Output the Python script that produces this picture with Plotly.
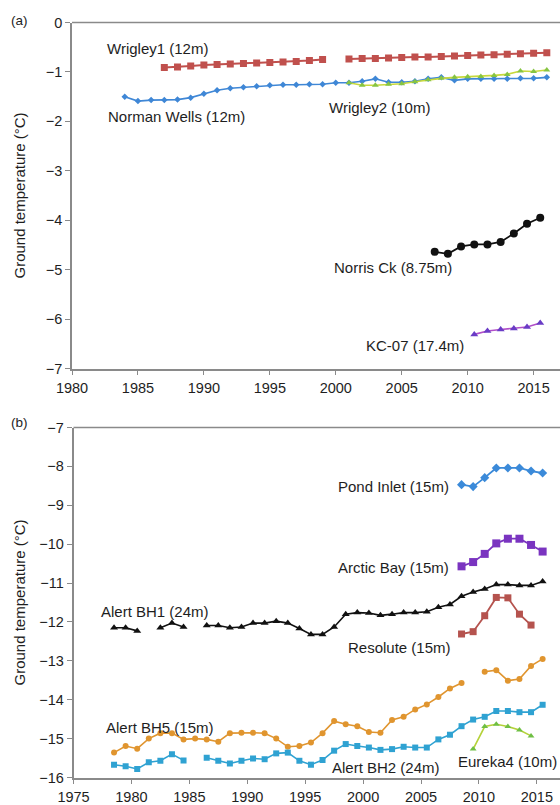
import plotly.graph_objects as go

# ---------------- Panel (a) data ----------------
wrigley1_years = list(range(1987, 2017))
wrigley1_vals = [-0.91, -0.90, -0.88, -0.86, -0.85, -0.84, -0.83, -0.82, -0.81, -0.80, -0.79, -0.77, -0.75,
                 None,
                 -0.74, -0.73, -0.73, -0.72, -0.71, -0.70, -0.70, -0.69, -0.68, -0.67, -0.66, -0.65, -0.64,
                 -0.63, -0.62, -0.61]
norman_years = list(range(1984, 2017))
norman_vals = [-1.50, -1.59, -1.57, -1.57, -1.56, -1.52, -1.44, -1.37, -1.33, -1.31, -1.29, -1.27, -1.26,
               -1.26, -1.25, -1.25, -1.22, -1.22, -1.19, -1.14, -1.21, -1.21, -1.19, -1.14, -1.11, -1.17,
               -1.14, -1.14, -1.14, -1.14, -1.13, -1.13, -1.11]
wrigley2_years = list(range(2001, 2017))
wrigley2_vals = [-1.22, -1.27, -1.27, -1.25, -1.24, -1.20, -1.16, -1.13, -1.11, -1.10, -1.09, -1.07, -1.05,
                 -0.98, -0.99, -0.96]
norris_years = list(range(2007, 2016))
norris_vals = [-4.64, -4.68, -4.53, -4.49, -4.49, -4.44, -4.27, -4.07, -3.95]
kc07_years = list(range(2010, 2016))
kc07_vals = [-6.31, -6.24, -6.21, -6.19, -6.16, -6.08]

# ---------------- Panel (b) data ----------------
alert_years = list(range(1978, 2016))
alert_bh1_vals = [-12.15, -12.15, -12.23, None, -12.15, -12.03, -12.13, None, -12.09, -12.09, -12.15, -12.13,
                  -12.03, -12.03, -11.98, -12.03, -12.17, -12.32, -12.32, -12.13, -11.80, -11.76, -11.77,
                  -11.83, -11.80, -11.76, -11.76, -11.74, -11.62, -11.55, -11.34, -11.23, -11.15, -11.04,
                  -11.04, -11.06, -11.06, -10.96]
alert_bh5_vals = [-15.36, -15.19, -15.26, -15.00, -14.86, -14.86, -15.02, -15.00, -15.02, -15.08, -14.86,
                  -14.85, -14.85, -14.86, -15.00, -15.21, -15.19, -15.10, -14.86, -14.55, -14.63, -14.68,
                  -14.83, -14.85, -14.52, -14.44, -14.25, -14.12, -13.93, -13.71, -13.57, None, -13.28,
                  -13.24, -13.51, -13.47, -13.13, -12.95]
alert_bh2_vals = [-15.67, -15.71, -15.78, -15.61, -15.57, -15.40, -15.56, None, -15.49, -15.57, -15.64,
                  -15.57, -15.51, -15.53, -15.38, -15.36, -15.57, -15.67, -15.55, -15.31, -15.14, -15.19,
                  -15.23, -15.29, -15.27, -15.21, -15.23, -15.23, -15.02, -14.90, -14.68, -14.51, -14.44,
                  -14.29, -14.29, -14.32, -14.32, -14.13]
resolute_years = list(range(2008, 2015))
resolute_vals = [-12.31, -12.25, -11.84, -11.37, -11.38, -11.80, -12.08]
eureka_years = list(range(2009, 2015))
eureka_vals = [-15.27, -14.69, -14.63, -14.69, -14.78, -14.93]
pond_years = list(range(2008, 2016))
pond_vals = [-8.47, -8.52, -8.29, -8.04, -8.04, -8.04, -8.12, -8.17]
arctic_years = list(range(2008, 2016))
arctic_vals = [-10.57, -10.46, -10.25, -9.98, -9.86, -9.86, -10.02, -10.19]

ticks_a = list(range(1980, 2016, 5))
ticks_b = list(range(1975, 2016, 5))

FONT = "Liberation Sans, Arial, sans-serif"
TXT = "#1e1e1e"
AX = "#8a8a8a"
W, H = 560, 805


def mid(years):
    # annual means plotted at mid-year
    return [y + 0.5 for y in years]


fig = go.Figure()


def add(x, y, color, symbol, size, xa, ya, lcolor=None, lw=1.8):
    fig.add_trace(go.Scatter(
        x=x, y=y, mode="lines+markers", xaxis=xa, yaxis=ya,
        line=dict(color=lcolor or color, width=lw),
        marker=dict(color=color, symbol=symbol, size=size, line=dict(width=0)),
        connectgaps=False, hoverinfo="skip"))


# panel a
add(wrigley1_years, wrigley1_vals, "#c0504d", "square", 7, "x", "y", lw=2)
add(norman_years, norman_vals, "#3f87d6", "diamond", 5, "x", "y", lw=1.6)
add(wrigley2_years, wrigley2_vals, "#86c443", "triangle-up", 6, "x", "y", lcolor="#c8d93c", lw=1.6)
add(mid(norris_years), norris_vals, "#111111", "circle", 8, "x", "y", lw=1.8)
add(mid(kc07_years), kc07_vals, "#6a3cc6", "triangle-up", 7, "x", "y", lcolor="#b04fc8", lw=1.6)

# panel b
add(mid(pond_years), pond_vals, "#3b8ad9", "diamond", 7, "x2", "y2", lw=1.8)
add(mid(arctic_years), arctic_vals, "#7a34c0", "square", 8, "x2", "y2", lw=1.8)
add(mid(alert_years), alert_bh1_vals, "#111111", "triangle-up", 7, "x2", "y2", lw=1.6)
add(mid(resolute_years), resolute_vals, "#b5534e", "square", 7, "x2", "y2", lw=1.8)
add(mid(alert_years), alert_bh5_vals, "#e0952f", "circle", 6, "x2", "y2", lw=1.6)
add(mid(alert_years), alert_bh2_vals, "#2fa2d2", "square", 6, "x2", "y2", lw=1.6)
add(mid(eureka_years), eureka_vals, "#6fbf44", "triangle-up", 6, "x2", "y2", lcolor="#b5d23a", lw=1.6)

axis_common = dict(showgrid=False, zeroline=False, showline=True, linecolor=AX, linewidth=1.5,
                   ticks="outside", ticklen=5, tickwidth=1.2, tickcolor=AX, automargin=False,
                   tickfont=dict(family=FONT, size=14.5, color=TXT))

ya_top, ya_bot = 22.5, 368.5
yb_top, yb_bot = 427.5, 777.5

fig.update_layout(
    width=W, height=H, margin=dict(l=0, r=0, t=0, b=0, pad=0), autosize=False,
    paper_bgcolor="white", plot_bgcolor="white", showlegend=False,
    xaxis=dict(domain=[72 / W, 1], range=[1980, 2017], anchor="y", tickvals=ticks_a, **axis_common),
    yaxis=dict(domain=[1 - ya_bot / H, 1 - ya_top / H], range=[-7, 0], dtick=1, anchor="x", **axis_common),
    xaxis2=dict(domain=[73.5 / W, 1], range=[1975, 2017], anchor="y2", tickvals=ticks_b, **axis_common),
    yaxis2=dict(domain=[1 - yb_bot / H, 1 - yb_top / H], range=[-16, -7], dtick=1, anchor="x2", **axis_common),
)

# top borders
for xr, yr in (("x domain", "y domain"), ("x2 domain", "y2 domain")):
    fig.add_shape(type="line", xref=xr, yref=yr, x0=0, x1=1, y0=1, y1=1,
                  line=dict(color=AX, width=1.5))

lab_font = dict(family=FONT, size=15, color=TXT)
labels_a = [("Wrigley1 (12m)", 1986.45, -0.52), ("Norman Wells (12m)", 1987.9, -1.91),
            ("Wrigley2 (10m)", 2003.3, -1.71), ("Norris Ck (8.75m)", 2004.3, -4.95),
            ("KC-07 (17.4m)", 2006.0, -6.54)]
labels_b = [("Pond Inlet (15m)", 2002.6, -8.53), ("Arctic Bay (15m)", 2002.6, -10.61),
            ("Alert BH1 (24m)", 1982.05, -11.72), ("Resolute (15m)", 2003.15, -12.65),
            ("Alert BH5 (15m)", 1982.5, -14.71), ("Alert BH2 (24m)", 2002.0, -15.73),
            ("Eureka4 (10m)", 2012.45, -15.60)]
for t, x, y in labels_a:
    fig.add_annotation(text=t, x=x, y=y, xref="x", yref="y", showarrow=False, font=lab_font,
                       xanchor="center", yanchor="middle")
for t, x, y in labels_b:
    fig.add_annotation(text=t, x=x, y=y, xref="x2", yref="y2", showarrow=False, font=lab_font,
                       xanchor="center", yanchor="middle")

# panel letters and y-axis titles
for t, yy in (("(a)", 20), ("(b)", 422)):
    fig.add_annotation(text=t, x=19 / W, y=1 - yy / H, xref="paper", yref="paper", showarrow=False,
                       font=dict(family=FONT, size=13.5, color=TXT), xanchor="center", yanchor="middle")
for yy in ((ya_top + ya_bot) / 2, (yb_top + yb_bot) / 2):
    fig.add_annotation(text="Ground temperature (°C)", x=19 / W, y=1 - yy / H, xref="paper", yref="paper",
                       showarrow=False, textangle=-90, font=dict(family=FONT, size=15, color=TXT),
                       xanchor="center", yanchor="middle")

fig.write_html("out.html", config={"displayModeBar": False},
               post_script="document.body.style.margin='0';document.body.style.overflow='hidden';")
